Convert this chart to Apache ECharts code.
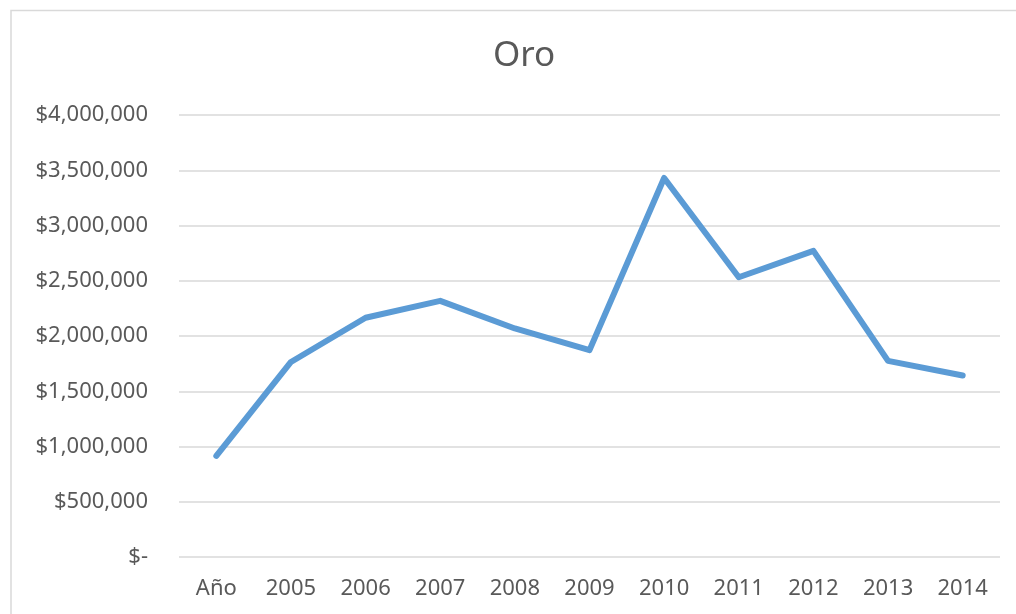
<!DOCTYPE html>
<html>
<head>
<meta charset="utf-8">
<script src="https://cdn.jsdelivr.net/npm/echarts@6/dist/echarts.min.js"></script>
<style>
html,body{margin:0;padding:0;background:#fff;}
#chart{width:1016px;height:614px;}
</style>
</head>
<body>
<div id="chart"></div>
<script>
const categories = ['Año','2005','2006','2007','2008','2009','2010','2011','2012','2013','2014'];
const oroValues = [915000, 1765000, 2165000, 2318000, 2068000, 1872000, 3430000, 2532000, 2770000, 1775000, 1642000];
const yTicks = [0, 500000, 1000000, 1500000, 2000000, 2500000, 3000000, 3500000, 4000000];

const chart = echarts.init(document.getElementById('chart'), null, {renderer:'canvas'});
const fontFam = '"Noto Sans", "Open Sans", sans-serif';
function fmt(v){
  if (v === 0) return '$-';
  return '$' + v.toString().replace(/\B(?=(\d{3})+(?!\d))/g, ',');
}
chart.setOption({
  animation:false,
  backgroundColor:'#ffffff',
  title:{
    text:'Oro',
    left:488,
    top:34,
    textStyle:{fontFamily:fontFam,fontSize:35,fontWeight:'normal',color:'#595959'}
  },
  graphic:[{
    type:'rect',
    shape:{x:11,y:10.5,width:1020,height:620},
    style:{fill:'none',stroke:'#d9d9d9',lineWidth:1.5},
    silent:true
  }],
  grid:{left:179,right:16,top:115,bottom:57,containLabel:false},
  xAxis:{
    type:'category',
    data:categories,
    boundaryGap:true,
    axisLine:{show:false},
    axisTick:{show:false},
    axisLabel:{fontFamily:fontFam,fontSize:22,color:'#595959',margin:21}
  },
  yAxis:{
    type:'value',
    min:yTicks[0],
    max:yTicks[yTicks.length-1],
    interval:yTicks[1]-yTicks[0],
    axisLine:{show:false},
    axisTick:{show:false},
    splitLine:{lineStyle:{color:'#d9d9d9',width:1.5}},
    axisLabel:{fontFamily:fontFam,fontSize:22,color:'#595959',margin:31,formatter:fmt}
  },
  series:[{
    type:'line',
    name:'Oro',
    data:oroValues,
    showSymbol:false,
    symbol:'none',
    lineStyle:{color:'#5b9bd5',width:6,cap:'round',join:'round'},
    itemStyle:{color:'#5b9bd5'}
  }]
});
</script>
</body>
</html>
